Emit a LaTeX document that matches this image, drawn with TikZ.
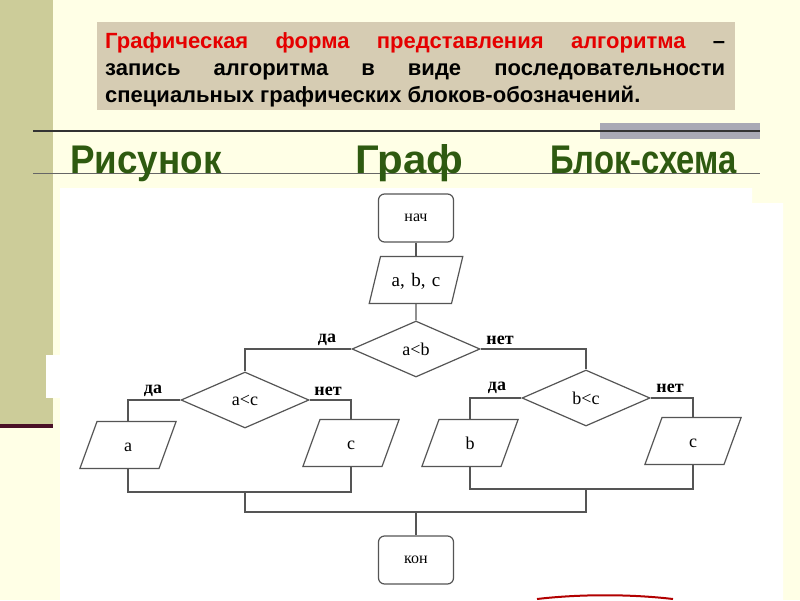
\documentclass[tikz,border=0pt]{standalone}
\usepackage{fontspec}
\setmainfont{Liberation Serif}
\newfontfamily\arialfont{Liberation Sans}
\usetikzlibrary{shapes.geometric}

\definecolor{slidebg}{HTML}{FFFFE6}
\definecolor{khaki}{HTML}{CCCC99}
\definecolor{maroon}{HTML}{4A1026}
\definecolor{tanbox}{HTML}{D6CCB3}
\definecolor{headgreen}{HTML}{2E5A10}
\definecolor{bargray}{HTML}{A9A9B5}
\definecolor{linegray}{HTML}{555555}

\tikzset{
  block/.style={draw=linegray,line width=1.2pt,rounded corners=6pt,minimum width=75pt,minimum height=48pt,inner sep=0pt,font=\fontsize{16}{16}\selectfont},
  cond/.style={draw=linegray,line width=1.2pt,diamond,minimum width=128pt,minimum height=56pt,inner sep=0pt,font=\fontsize{18}{18}\selectfont},
  io/.style={draw=linegray,line width=1.2pt,trapezium,trapezium left angle=70,trapezium right angle=110,inner xsep=0pt,text width=62pt,align=center,text height=12pt,text depth=0pt,inner ysep=17.5pt,font=\fontsize{18}{18}\selectfont},
  answer/.style={inner sep=0pt,font=\bfseries\fontsize{18}{18}\selectfont},
  heading/.style={anchor=base west,inner sep=0pt,text=headgreen,font=\arialfont\bfseries\fontsize{40}{40}\selectfont},
  link/.style={draw=linegray,line width=1.2pt}
}

\begin{document}
\begin{tikzpicture}[x=1pt,y=-1pt]
\useasboundingbox (0,0) rectangle (800,600);
\fill[slidebg] (0,0) rectangle (800,600);
\fill[khaki] (0,0) rectangle (53,424);
\fill[maroon] (0,424) rectangle (53,428);

\fill[tanbox] (97,22) rectangle (735,110);
\node[anchor=north west,inner sep=0pt,text width=620pt,align=justify,
  font=\arialfont\bfseries\fontsize{22}{27}\selectfont] (title) at (105,32)
  {\textcolor{red!90!black}{Графическая форма представления алгоритма} –\linebreak запись алгоритма в виде последовательности\linebreak специальных графических блоков-обозначений.};

\fill[bargray] (600,123) rectangle (760,139);
\draw[line width=1.5pt,black!80] (33,131) -- (760,131);
\draw[line width=0.8pt,black!60] (33,173) -- (760,173);

\node[heading] (pic) at (70,173) {\scalebox{0.92}[1]{Рисунок}};
\node[heading] (graph) at (355,173) {\scalebox{1.05}[1]{Граф}};
\node[heading] (chart) at (550,173) {\scalebox{0.82}[1]{Блок-схема}};

\fill[white] (60,188) -- (752,188) -- (752,203) -- (783,203) -- (783,600) -- (60,600) -- cycle;
\fill[white] (46,355) rectangle (60,398);
\draw[red!70!black,line width=2pt] (537,599) .. controls (580,594) and (630,594) .. (673,599);

\node[block] (start) at (416,218) {нач};
\node[io,trapezium left angle=76.5,trapezium right angle=103.5,text width=71pt,font=\fontsize{19}{19}\selectfont] (input) at (416,280) {a, b, c};
\node[cond] (cab) at (416,349) {a<b};
\node[cond] (cac) at (245,400) {a<c};
\node[cond] (cbc) at (586,398) {b<c};
\node[io] (outa) at (128,445) {a};
\node[io] (outc) at (351,443) {c};
\node[io] (outb) at (470,443) {b};
\node[io] (outc2) at (693,441) {c};
\node[block] (stop) at (416,560) {кон};

\coordinate (jl) at (245,492);
\coordinate (jr) at (586,489);
\coordinate (jm) at (416,512);

\draw[link] (start) -- (input);
\draw[link] (input) -- (cab);
\draw[link] (cab.west) -| (cac.north);
\draw[link] (cab.east) -| (cbc.north);
\draw[link] (cac.west) -| (outa.north);
\draw[link] (cac.east) -| (outc.north);
\draw[link] (cbc.west) -| (outb.north);
\draw[link] (cbc.east) -| (outc2.north);
\draw[link] (outa.south) |- (jl) -| (outc.south);
\draw[link] (outb.south) |- (jr) -| (outc2.south);
\draw[link] (jl) |- (jm) -| (jr);
\draw[link] (jm) -- (stop);

\node[answer] (yab) at (327,340) {да};
\node[answer] (nab) at (500,340) {нет};
\node[answer] (yac) at (153,391) {да};
\node[answer] (nac) at (328,391) {нет};
\node[answer] (ybc) at (497,388) {да};
\node[answer] (nbc) at (670,388) {нет};
\end{tikzpicture}
\end{document}
